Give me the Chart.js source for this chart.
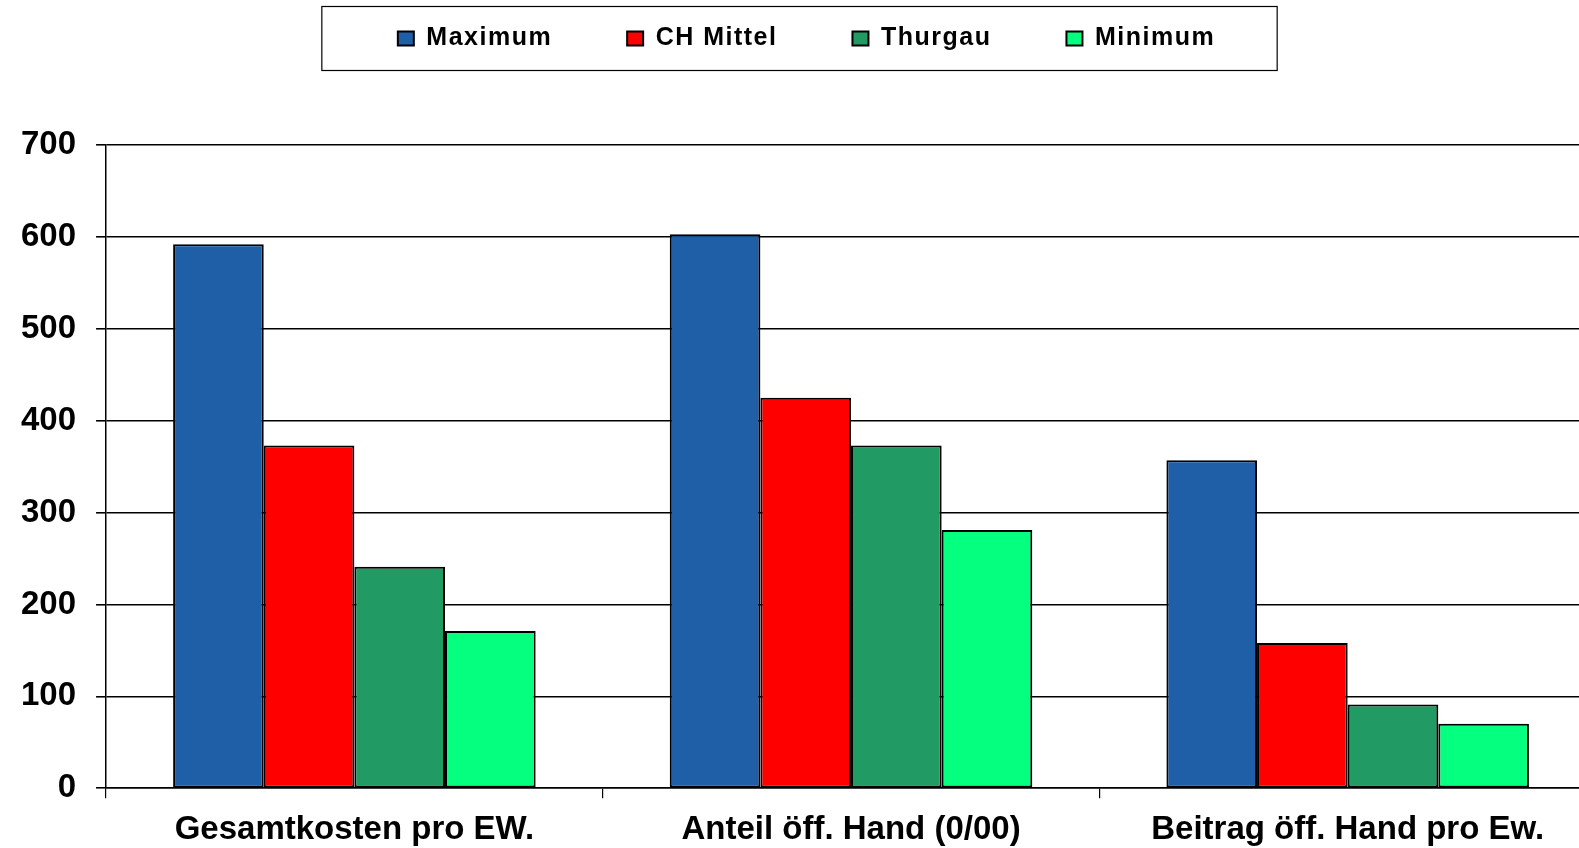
<!DOCTYPE html>
<html>
<head>
<meta charset="utf-8">
<script src="https://cdn.jsdelivr.net/npm/chart.js@4"></script>
<style>
  html, body { margin: 0; padding: 0; background: #fff; overflow: hidden; }
  /* Die Zeichenfläche ragt rechts etwas über den Rand hinaus, wie im Original */
  #wrap { width: 1596px; height: 848px; }
</style>
</head>
<body>
<div id="wrap"><canvas id="kostenChart"></canvas></div>
<script>
// Kategorien und Werte
const kategorien = ["Gesamtkosten pro EW.", "Anteil öff. Hand (0/00)", "Beitrag öff. Hand pro Ew."];
const maximum = [592, 603, 357];
const chMittel = [373, 425, 158];
const thurgau = [241, 373, 91];
const minimum = [171, 281, 70];
const yTicks = [0, 100, 200, 300, 400, 500, 600, 700];

const schrift = "'Liberation Sans', Arial, sans-serif";

// Legende: Höhe, Lage, Sperrung und Rahmen wie im Original
const legendeRahmen = {
    id: 'legendeRahmen',
    beforeInit(chart) {
        const legend = chart.legend;
        const fit = legend.fit;
        legend.fit = function () {
            this.ctx.save();
            this.ctx.letterSpacing = '1.5px';
            fit.call(this);
            this.ctx.restore();
            this.height = 145; // Platz über dem Diagramm
        };
        const draw = legend.draw;
        legend.draw = function (area) {
            const ctx = this.ctx;
            ctx.save();
            ctx.letterSpacing = '1.5px';
            ctx.translate(8, -49);
            draw.call(this, area);
            ctx.letterSpacing = '0px';
            const boxes = this.legendHitBoxes;
            if (boxes && boxes.length) {
                const first = boxes[0];
                const last = boxes[boxes.length - 1];
                const mitte = first.top + first.height / 2;
                ctx.strokeStyle = '#000';
                ctx.lineWidth = 1.2;
                const links = first.left - 76;
                const rechts = last.left + last.width + 62;
                ctx.strokeRect(links, mitte - 32, rechts - links, 64);
            }
            ctx.restore();
        };
    }
};

const data = {
    labels: kategorien,
    datasets: [
        { label: 'Maximum', data: maximum, backgroundColor: '#1f5fa8' },
        { label: 'CH Mittel', data: chMittel, backgroundColor: '#ff0000' },
        { label: 'Thurgau', data: thurgau, backgroundColor: '#219b63' },
        { label: 'Minimum', data: minimum, backgroundColor: '#05ff7e' }
    ].map(ds => Object.assign(ds, {
        borderColor: '#000',
        borderWidth: 2,
        borderSkipped: false,
        categoryPercentage: 0.73,
        barPercentage: 1.0
    }))
};

const options = {
    responsive: true,
    maintainAspectRatio: false,
    animation: false,
    layout: { padding: { left: 1, right: 0, top: 0, bottom: -13 } },
    plugins: {
        legend: {
            position: 'top',
            labels: {
                color: '#000',
                boxWidth: 16,
                boxHeight: 14,
                padding: 75,
                font: { family: schrift, size: 25, weight: 'bold' }
            }
        },
        tooltip: { enabled: false }
    },
    scales: {
        x: {
            grid: {
                drawOnChartArea: false,
                drawTicks: true,
                tickLength: 10,
                color: '#000',
                lineWidth: 1.2,
                offset: true
            },
            border: { display: true, color: '#000', width: 1.5 },
            ticks: {
                color: '#000',
                padding: 22,
                maxRotation: 0,
                font: { family: schrift, size: 33, weight: 'bold', lineHeight: 0.57 }
            }
        },
        y: {
            min: 0,
            max: 700,
            afterBuildTicks: axis => { axis.ticks = yTicks.map(v => ({ value: v })); },
            grid: {
                color: '#000',
                lineWidth: 1.6,
                tickLength: 10
            },
            border: { display: true, color: '#000', width: 1.5 },
            ticks: {
                color: '#000',
                padding: 20,
                font: { family: schrift, size: 33, weight: 'bold' }
            }
        }
    }
};

const ctx = document.getElementById('kostenChart').getContext('2d');
const kostenChart = new Chart(ctx, {
    type: 'bar',
    data: data,
    options: options,
    plugins: [legendeRahmen]
});
</script>
</body>
</html>
